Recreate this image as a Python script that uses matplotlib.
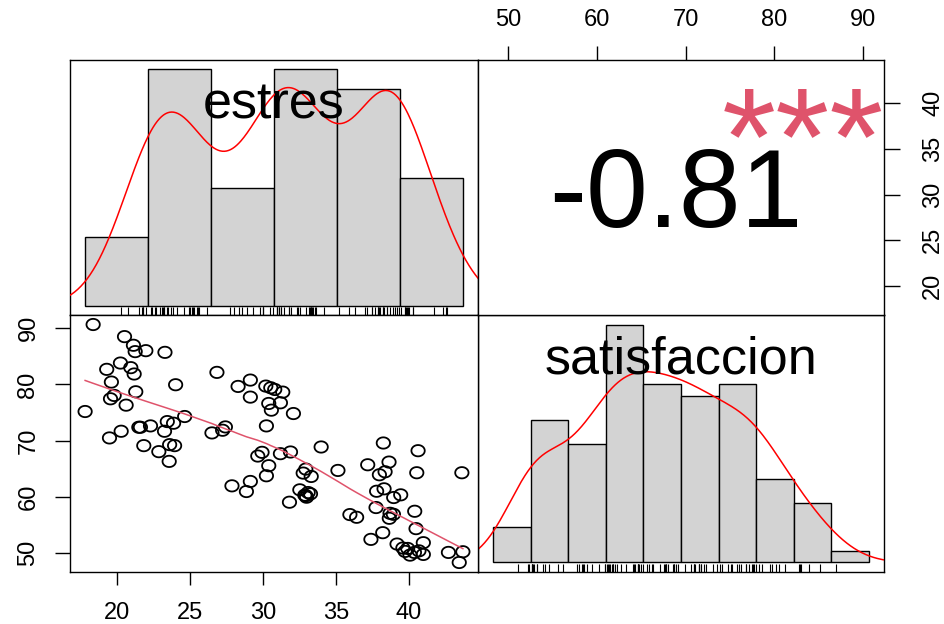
import numpy as np
import matplotlib
matplotlib.use("Agg")
import matplotlib.pyplot as plt
import matplotlib.transforms as mtransforms
from matplotlib.path import Path
import math

plt.rcParams['font.family'] = ['Liberation Sans', 'DejaVu Sans']

# Paired observations: stress score and satisfaction score
estres = np.array([
    18.38, 20.53, 21.14, 21.26, 21.99, 23.30, 19.31, 20.25, 20.96, 21.19,
    19.63, 19.82, 19.57, 21.30, 20.64, 17.83, 24.03, 19.50, 20.30, 21.51,
    21.62, 22.31, 23.46, 23.89, 24.65, 23.27, 21.85, 22.88, 23.62, 23.96,
    23.59, 26.86, 28.31, 29.15, 29.15, 30.21, 30.55, 30.82, 31.37, 30.41,
    31.21, 30.59, 32.10, 30.25, 26.52, 27.25, 27.44, 29.66, 29.95, 31.21,
    31.90, 34.00, 30.41, 30.25, 27.89, 29.15, 28.88, 31.83, 32.77, 32.95,
    33.32, 32.54, 32.88, 33.11, 33.27, 33.00, 35.15, 38.26, 37.19, 37.99,
    38.38, 38.65, 40.64, 40.55, 43.64, 37.80, 38.31, 38.97, 39.45, 35.97,
    36.43, 37.76, 38.72, 38.95, 38.67, 40.41, 40.50, 37.41, 38.22, 39.20,
    39.93, 39.75, 40.09, 40.39, 41.00, 41.00, 42.72, 43.71, 43.46, 32.95,
    39.60, 40.70,
])
satisfaccion = np.array([
    90.65, 88.50, 86.96, 85.83, 86.00, 85.70, 82.68, 83.80, 82.98, 81.85,
    80.42, 78.04, 77.44, 78.69, 76.31, 75.18, 79.94, 70.48, 71.67, 72.38,
    72.38, 72.62, 73.39, 73.10, 74.29, 71.67, 69.11, 68.04, 69.29, 69.11,
    66.31, 82.14, 79.64, 80.77, 77.74, 79.70, 79.40, 79.10, 78.63, 76.61,
    76.73, 75.42, 74.82, 72.62, 71.37, 71.85, 72.44, 67.26, 67.92, 67.68,
    67.98, 68.87, 65.54, 63.75, 61.96, 62.74, 60.95, 59.05, 64.23, 64.94,
    63.63, 61.25, 60.30, 60.77, 60.54, 59.94, 64.70, 69.58, 65.71, 63.93,
    64.46, 66.19, 68.21, 64.29, 64.29, 61.00, 61.43, 59.88, 60.36, 56.85,
    56.37, 58.10, 57.08, 56.90, 56.19, 57.44, 54.35, 52.44, 53.63, 51.61,
    50.83, 50.30, 49.64, 50.12, 49.76, 51.85, 50.12, 50.24, 48.33, 60.20,
    50.90, 50.40,
])

estres_breaks = [15, 20, 25, 30, 35, 40, 45]
satisf_breaks = [45, 50, 55, 60, 65, 70, 75, 80, 85, 90, 95]
estres_ticks = [20, 25, 30, 35, 40]
satisf_ticks = [50, 60, 70, 80, 90]

names = ["estres", "satisfaccion"]

BAR_FILL = "#D3D3D3"
SMOOTH_COL = "#DF536B"
TICK_FS = 17
LABEL_FS = 37.5


def lowess(x, y, f=2 / 3, iters=3):
    o = np.argsort(x, kind="mergesort")
    xs, ys = x[o].astype(float), y[o].astype(float)
    n = len(xs)
    ns = max(2, min(n, int(f * n + 1e-7)))
    rob = np.ones(n)
    fit = np.empty(n)
    rng = xs[-1] - xs[0]
    for it in range(iters + 1):
        for i in range(n):
            d = np.abs(xs - xs[i])
            h = np.sort(d)[ns - 1]
            w = np.zeros(n)
            near = d <= 0.999 * h
            w[near] = np.where(d[near] <= 0.001 * h, 1.0,
                               (1 - (d[near] / h) ** 3) ** 3)
            w *= rob
            if w.sum() <= 0:
                fit[i] = ys[i]
                continue
            w = w / w.sum()
            if h > 0:
                a = np.sum(w * xs)
                b = xs - a
                c = np.sum(w * b * b)
                if np.sqrt(c) > 0.001 * rng:
                    w = w * (b * (xs[i] - a) / c + 1)
            fit[i] = np.sum(w * ys)
        if it == iters:
            break
        res = np.abs(ys - fit)
        cmad = 6 * np.median(res)
        if cmad < 1e-7 * np.mean(np.abs(ys)):
            break
        u = res / cmad
        rob = np.where(u < 0.001, 1.0, np.where(u > 0.999, 0.0, (1 - u ** 2) ** 2))
    return xs, fit


def kde(v, npts=512):
    sd = v.std(ddof=1)
    q75, q25 = np.percentile(v, [75, 25])
    bw = 0.9 * min(sd, (q75 - q25) / 1.34) * len(v) ** -0.2
    grid = np.linspace(v.min() - 3 * bw, v.max() + 3 * bw, npts)
    z = (grid[:, None] - v[None, :]) / bw
    dens = np.exp(-0.5 * z ** 2).sum(1) / (len(v) * bw * np.sqrt(2 * np.pi))
    return grid, dens


def padded(lo, hi):
    r = hi - lo
    return lo - 0.04 * r, hi + 0.04 * r


def hist_panel(ax, v, breaks):
    breaks = np.asarray(breaks, float)
    counts = []
    for k, (lo, hi) in enumerate(zip(breaks[:-1], breaks[1:])):
        m = (v > lo) & (v <= hi)
        if k == 0:
            m |= v == lo
        counts.append(m.sum())
    counts = np.array(counts)
    widths = np.diff(breaks)
    dens = counts / (len(v) * widths)
    ax.bar(breaks[:-1], dens, width=widths, align="edge", color=BAR_FILL,
           edgecolor="black", linewidth=1.0, zorder=2)
    g, d = kde(v)
    ax.plot(g, d, color="red", lw=1.1, zorder=3)
    trans = mtransforms.blended_transform_factory(ax.transData, ax.transAxes)
    ax.vlines(v, 0, 0.03, transform=trans, color="black", lw=0.8, zorder=3)
    ax.set_xlim(*padded(breaks[0], breaks[-1]))
    ax.set_ylim(*padded(0, dens.max()))
    ax.set_xticks([])
    ax.set_yticks([])


def diag_label(ax, text):
    ax.annotate(text, xy=(0.5, 5 / 6), xycoords="axes fraction",
                xytext=(0, -11.5), textcoords="offset points",
                ha="center", va="baseline", fontsize=LABEL_FS, color="black")


fig = plt.figure(figsize=(9.44, 6.24), dpi=100)
W, H = 944.0, 624.0
cols = [(70, 478), (478, 884)]
rows = [(60, 315), (315, 572)]


def panel(r, c):
    x0, x1 = cols[c]
    y0, y1 = rows[r]
    ax = fig.add_axes([x0 / W, 1 - y1 / H, (x1 - x0) / W, (y1 - y0) / H])
    for s in ax.spines.values():
        s.set_linewidth(1.0)
        s.set_color("black")
    return ax


# Ellipse-shaped open marker for the scatter points
t = np.linspace(0, 2 * np.pi, 73)
ring = Path(np.column_stack([1.18 * np.cos(t), np.sin(t)]), closed=True)

# top-left: distribution of estres
ax11 = panel(0, 0)
hist_panel(ax11, estres, estres_breaks)
diag_label(ax11, names[0])

# bottom-right: distribution of satisfaccion
ax22 = panel(1, 1)
hist_panel(ax22, satisfaccion, satisf_breaks)
diag_label(ax22, names[1])

# bottom-left: scatter with lowess smooth
ax21 = panel(1, 0)
ax21.scatter(estres, satisfaccion, marker=ring, s=9.6 ** 2, facecolors="none",
             edgecolors="black", linewidths=1.3, zorder=2)
lx, ly = lowess(estres, satisfaccion)
ax21.plot(lx, ly, color=SMOOTH_COL, lw=1.1, zorder=3)
ax21.set_xlim(*padded(estres.min(), estres.max()))
ax21.set_ylim(*padded(satisfaccion.min(), satisfaccion.max()))
ax21.set_xticks(estres_ticks)
ax21.set_yticks(satisf_ticks)
ax21.tick_params(axis="x", length=9.5, width=1.0, pad=12, labelsize=TICK_FS)
ax21.tick_params(axis="y", length=11, width=1.0, pad=11, labelsize=TICK_FS)
for lab in ax21.get_yticklabels():
    lab.set_rotation(90)
    lab.set_va("center")
    lab.set_ha("right")

# top-right: correlation coefficient with significance stars
ax12 = panel(0, 1)
ax12.set_xlim(*padded(satisfaccion.min(), satisfaccion.max()))
ax12.set_ylim(*padded(estres.min(), estres.max()))
ax12.xaxis.tick_top()
ax12.yaxis.tick_right()
ax12.set_xticks(satisf_ticks)
ax12.set_yticks(estres_ticks)
ax12.tick_params(axis="x", length=10, width=1.0, pad=11, labelsize=TICK_FS)
ax12.tick_params(axis="y", length=11.5, width=1.0, pad=16, labelsize=TICK_FS)
for lab in ax12.get_yticklabels():
    lab.set_rotation(90)
    lab.set_va("center")
    lab.set_ha("left")

r = np.corrcoef(estres, satisfaccion)[0, 1]
n = len(estres)
tstat = abs(r) * math.sqrt((n - 2) / (1 - r ** 2))
p = math.erfc(tstat / math.sqrt(2))
stars = "***" if p < 0.001 else "**" if p < 0.01 else "*" if p < 0.05 else "." if p < 0.1 else ""
num_fs = 80
ax12.annotate(f"{r:.2f}", xy=(0.5, 0.5), xycoords="axes fraction",
              xytext=(-4, -0.358 * num_fs), textcoords="offset points",
              ha="center", va="baseline", fontsize=num_fs, color="black")
star_fs = 100
ax12.annotate(stars, xy=(0.8, 0.8), xycoords="axes fraction",
              xytext=(0, -27), textcoords="offset points",
              ha="center", va="center", fontsize=star_fs, color=SMOOTH_COL)

fig.savefig("out.png", dpi=100, facecolor="white")
